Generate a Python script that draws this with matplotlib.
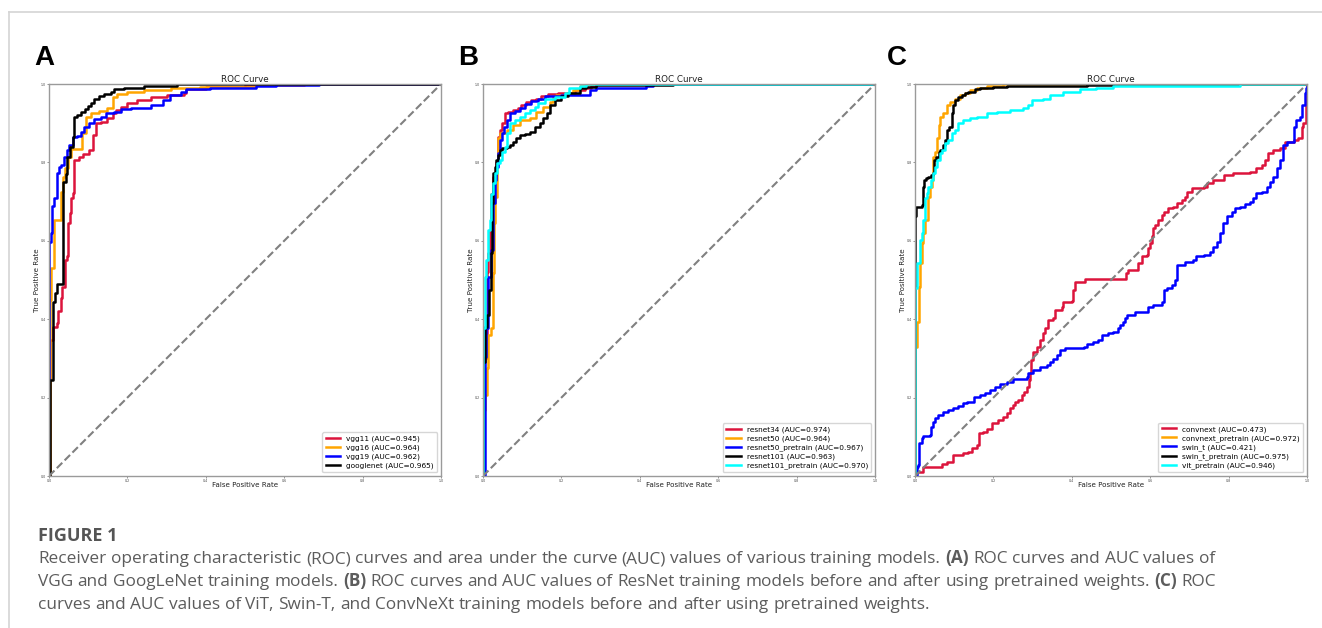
import matplotlib
matplotlib.use('Agg')
import matplotlib.pyplot as plt

W, H = 1322, 628

# ---------------- panel A: VGG / GoogLeNet ----------------
vgg11_fpr = [0, 0.002, 0.0105, 0.0196, 0.023, 0.03, 0.034, 0.04, 0.045, 0.048, 0.054, 0.057, 0.062, 0.065,
             0.077, 0.088, 0.102, 0.113, 0.119, 0.132, 0.149, 0.162, 0.17, 0.183, 0.2, 0.225, 0.259, 0.302,
             0.344, 0.35, 0.4, 0.5, 0.65, 1.0]
vgg11_tpr = [0, 0.347, 0.381, 0.391, 0.422, 0.453, 0.483, 0.551, 0.56, 0.645, 0.67, 0.708, 0.721, 0.806,
             0.815, 0.821, 0.832, 0.87, 0.9, 0.904, 0.912, 0.925, 0.934, 0.942, 0.951, 0.959, 0.968, 0.972,
             0.978, 0.986, 0.993, 0.997, 1.0, 1.0]

vgg16_fpr = [0, 0.0025, 0.006, 0.013, 0.031, 0.036, 0.04, 0.048, 0.055, 0.085, 0.094, 0.106, 0.128, 0.149,
             0.162, 0.174, 0.2, 0.242, 0.31, 0.384, 0.529, 0.65, 1.0]
vgg16_tpr = [0, 0.449, 0.53, 0.653, 0.725, 0.764, 0.785, 0.815, 0.833, 0.874, 0.917, 0.925, 0.932, 0.938,
             0.968, 0.974, 0.98, 0.985, 0.99, 0.993, 0.997, 1.0, 1.0]

vgg19_fpr = [0, 0, 0.004, 0.0085, 0.013, 0.0195, 0.0255, 0.0315, 0.038, 0.045, 0.051, 0.06, 0.072, 0.081,
             0.089, 0.102, 0.115, 0.132, 0.145, 0.166, 0.183, 0.208, 0.259, 0.291, 0.308, 0.338, 0.35, 0.41,
             0.529, 0.58, 0.69, 1.0]
vgg19_tpr = [0, 0.598, 0.62, 0.69, 0.708, 0.772, 0.787, 0.793, 0.815, 0.832, 0.844, 0.864, 0.867, 0.878,
             0.891, 0.9, 0.91, 0.917, 0.925, 0.929, 0.935, 0.94, 0.946, 0.959, 0.972, 0.98, 0.986, 0.991,
             0.995, 0.997, 1.0, 1.0]

googlenet_fpr = [0, 0.003, 0.009, 0.011, 0.015, 0.021, 0.036, 0.043, 0.047, 0.054, 0.06, 0.065, 0.072, 0.082,
                 0.091, 0.1, 0.108, 0.116, 0.128, 0.14, 0.157, 0.167, 0.191, 0.242, 0.327, 1.0]
googlenet_tpr = [0, 0.245, 0.29, 0.445, 0.466, 0.49, 0.75, 0.77, 0.815, 0.84, 0.866, 0.917, 0.92, 0.928,
                 0.935, 0.944, 0.952, 0.961, 0.969, 0.974, 0.98, 0.986, 0.991, 0.996, 1.0, 1.0]

# ---------------- panel B: ResNet ----------------
resnet34_fpr = [0, 0, 0.009, 0.013, 0.017, 0.021, 0.026, 0.034, 0.037, 0.043, 0.049, 0.055, 0.064, 0.077,
                0.089, 0.098, 0.11, 0.123, 0.136, 0.149, 0.166, 0.191, 0.234, 0.26, 0.276, 0.289, 1.0]
resnet34_tpr = [0, 0.30, 0.52, 0.568, 0.627, 0.72, 0.764, 0.80, 0.866, 0.883, 0.9, 0.925, 0.929, 0.934,
                0.94, 0.946, 0.955, 0.959, 0.963, 0.969, 0.974, 0.978, 0.985, 0.991, 0.995, 1.0, 1.0]

resnet50_fpr = [0, 0, 0.006, 0.011, 0.014, 0.021, 0.026, 0.028, 0.031, 0.035, 0.038, 0.043, 0.06, 0.077,
                0.094, 0.119, 0.136, 0.153, 0.17, 0.179, 0.187, 0.213, 0.23, 0.247, 0.264, 1.0]
resnet50_tpr = [0, 0.168, 0.207, 0.275, 0.36, 0.377, 0.517, 0.645, 0.713, 0.80, 0.861, 0.874, 0.883, 0.895,
                0.908, 0.912, 0.929, 0.942, 0.955, 0.966, 0.972, 0.976, 0.985, 0.995, 1.0, 1.0]

resnet50_pre_fpr = [0, 0.004, 0.0085, 0.0128, 0.021, 0.0255, 0.03, 0.034, 0.038, 0.0425, 0.048, 0.054, 0.06,
                    0.068, 0.081, 0.094, 0.106, 0.123, 0.14, 0.157, 0.2, 0.273, 0.289, 0.417, 0.434, 1.0]
resnet50_pre_tpr = [0, 0.304, 0.377, 0.508, 0.577, 0.696, 0.755, 0.789, 0.823, 0.857, 0.874, 0.891, 0.908,
                    0.925, 0.932, 0.94, 0.949, 0.957, 0.963, 0.969, 0.973, 0.985, 0.991, 0.995, 1.0, 1.0]

resnet101_fpr = [0, 0, 0.006, 0.011, 0.0153, 0.0196, 0.023, 0.0255, 0.03, 0.034, 0.038, 0.0425, 0.048, 0.06,
                 0.068, 0.077, 0.085, 0.094, 0.106, 0.119, 0.132, 0.145, 0.153, 0.162, 0.17, 0.183, 0.2,
                 0.217, 0.247, 0.264, 0.289, 0.485, 1.0]
resnet101_tpr = [0, 0.29, 0.381, 0.41, 0.474, 0.568, 0.696, 0.772, 0.789, 0.806, 0.819, 0.832, 0.836, 0.84,
                 0.844, 0.853, 0.861, 0.87, 0.872, 0.878, 0.891, 0.9, 0.912, 0.925, 0.946, 0.959, 0.969,
                 0.976, 0.989, 0.993, 0.997, 1.0, 1.0]

resnet101_pre_fpr = [0, 0, 0.004, 0.0085, 0.0128, 0.017, 0.021, 0.0255, 0.0315, 0.036, 0.0425, 0.048, 0.055,
                     0.062, 0.068, 0.081, 0.094, 0.106, 0.119, 0.132, 0.14, 0.157, 0.183, 0.208, 0.22, 0.247,
                     0.264, 1.0]
resnet101_pre_tpr = [0, 0.377, 0.508, 0.551, 0.627, 0.653, 0.72, 0.747, 0.772, 0.798, 0.806, 0.827, 0.84,
                     0.874, 0.9, 0.908, 0.917, 0.925, 0.934, 0.942, 0.951, 0.963, 0.967, 0.976, 0.989, 0.995,
                     1.0, 1.0]

# ---------------- panel C: ConvNeXt / Swin-T / ViT ----------------
convnext_fpr = [0, 0.0213, 0.068, 0.0808, 0.0978, 0.123, 0.136, 0.145, 0.157, 0.162, 0.174, 0.183, 0.196,
                0.213, 0.225, 0.234, 0.242, 0.251, 0.255, 0.264, 0.272, 0.278, 0.285, 0.291, 0.293, 0.295,
                0.302, 0.31, 0.319, 0.327, 0.332, 0.34, 0.353, 0.357, 0.374, 0.378, 0.4, 0.404, 0.408,
                0.434, 0.538, 0.544, 0.57, 0.578, 0.591, 0.595, 0.599, 0.604, 0.608, 0.612, 0.621, 0.629,
                0.634, 0.646, 0.659, 0.668, 0.68, 0.689, 0.693, 0.706, 0.736, 0.744, 0.761, 0.787, 0.812,
                0.854, 0.871, 0.884, 0.893, 0.901, 0.914, 0.931, 0.944, 0.966, 0.978, 0.986, 0.99, 0.997, 1.0]
convnext_tpr = [0.011, 0.0238, 0.03, 0.035, 0.054, 0.0578, 0.062, 0.0706, 0.079, 0.109, 0.113, 0.12, 0.134,
                0.143, 0.151, 0.16, 0.173, 0.181, 0.19, 0.194, 0.207, 0.215, 0.228, 0.245, 0.262, 0.296,
                0.317, 0.33, 0.347, 0.364, 0.377, 0.398, 0.402, 0.423, 0.432, 0.445, 0.447, 0.474, 0.496,
                0.503, 0.517, 0.526, 0.543, 0.56, 0.564, 0.581, 0.594, 0.611, 0.632, 0.64, 0.653, 0.666,
                0.674, 0.683, 0.687, 0.696, 0.704, 0.713, 0.725, 0.734, 0.738, 0.747, 0.755, 0.768, 0.772,
                0.776, 0.785, 0.793, 0.806, 0.823, 0.832, 0.836, 0.853, 0.857, 0.862, 0.891, 0.9, 0.97, 1.0]

convnext_pre_fpr = [0, 0, 0.004, 0.011, 0.0128, 0.017, 0.021, 0.0255, 0.034, 0.038, 0.0425, 0.047, 0.051,
                    0.057, 0.062, 0.065, 0.072, 0.081, 0.089, 0.102, 0.115, 0.128, 0.14, 0.157, 0.183, 0.225, 1.0]
convnext_pre_tpr = [0, 0.33, 0.394, 0.483, 0.543, 0.594, 0.619, 0.653, 0.713, 0.738, 0.755, 0.815, 0.827,
                    0.861, 0.895, 0.917, 0.925, 0.946, 0.955, 0.963, 0.972, 0.978, 0.985, 0.991, 0.995, 1.0, 1.0]

swin_t_fpr = [0, 0.0043, 0.0085, 0.011, 0.017, 0.0213, 0.038, 0.04, 0.045, 0.051, 0.0595, 0.072, 0.085, 0.098,
              0.11, 0.123, 0.132, 0.15, 0.166, 0.178, 0.191, 0.204, 0.217, 0.234, 0.251, 0.285, 0.289, 0.302,
              0.319, 0.336, 0.344, 0.353, 0.361, 0.37, 0.383, 0.43, 0.438, 0.455, 0.468, 0.476, 0.493, 0.506,
              0.519, 0.523, 0.531, 0.536, 0.54, 0.561, 0.595, 0.608, 0.629, 0.634, 0.642, 0.655, 0.663, 0.668,
              0.689, 0.71, 0.718, 0.736, 0.753, 0.761, 0.77, 0.778, 0.785, 0.795, 0.808, 0.816, 0.829, 0.842,
              0.854, 0.863, 0.871, 0.884, 0.897, 0.906, 0.914, 0.923, 0.931, 0.94, 0.948, 0.966, 0.968, 0.973,
              0.982, 0.986, 0.995, 0.997, 1.0]
swin_t_tpr = [0.0026, 0.0238, 0.0281, 0.0833, 0.096, 0.103, 0.105, 0.126, 0.139, 0.147, 0.156, 0.164, 0.168,
              0.174, 0.179, 0.185, 0.188, 0.202, 0.207, 0.213, 0.219, 0.228, 0.235, 0.241, 0.247, 0.252, 0.262,
              0.27, 0.277, 0.283, 0.292, 0.298, 0.309, 0.321, 0.326, 0.33, 0.338, 0.343, 0.347, 0.36, 0.364,
              0.368, 0.377, 0.385, 0.394, 0.402, 0.411, 0.419, 0.432, 0.436, 0.445, 0.474, 0.479, 0.487, 0.5,
              0.538, 0.547, 0.551, 0.56, 0.564, 0.572, 0.585, 0.598, 0.619, 0.645, 0.662, 0.674, 0.683, 0.687,
              0.694, 0.7, 0.708, 0.721, 0.725, 0.738, 0.751, 0.764, 0.785, 0.806, 0.844, 0.853, 0.857, 0.891,
              0.908, 0.917, 0.946, 0.976, 0.989, 1.0]

swin_t_pre_fpr = [0, 0, 0.0026, 0.017, 0.0196, 0.023, 0.028, 0.034, 0.04, 0.045, 0.048, 0.054, 0.06, 0.064,
                  0.071, 0.077, 0.081, 0.088, 0.094, 0.098, 0.102, 0.11, 0.119, 0.128, 0.136, 0.153, 0.166,
                  0.2, 0.234, 0.438, 0.506, 1.0]
swin_t_pre_tpr = [0, 0.662, 0.687, 0.691, 0.738, 0.755, 0.759, 0.764, 0.768, 0.772, 0.806, 0.815, 0.827,
                  0.832, 0.844, 0.857, 0.883, 0.891, 0.925, 0.946, 0.959, 0.967, 0.972, 0.976, 0.98, 0.986,
                  0.989, 0.993, 0.995, 0.998, 1.0, 1.0]

vit_pre_fpr = [0, 0, 0.006, 0.0128, 0.017, 0.021, 0.0255, 0.03, 0.034, 0.04, 0.045, 0.051, 0.055, 0.064, 0.068,
               0.077, 0.085, 0.094, 0.102, 0.11, 0.123, 0.14, 0.157, 0.183, 0.208, 0.242, 0.276, 0.289, 0.298,
               0.327, 0.344, 0.378, 0.421, 0.463, 0.506, 0.829, 1.0]
vit_pre_tpr = [0, 0.48, 0.543, 0.602, 0.619, 0.653, 0.708, 0.721, 0.738, 0.755, 0.772, 0.789, 0.806, 0.823,
               0.832, 0.849, 0.857, 0.874, 0.883, 0.9, 0.908, 0.912, 0.917, 0.925, 0.929, 0.934, 0.938, 0.946,
               0.959, 0.963, 0.972, 0.98, 0.986, 0.991, 0.995, 1.0, 1.0]

panel_a = [('vgg11', '0.945', 'crimson', vgg11_fpr, vgg11_tpr),
           ('vgg16', '0.964', 'orange', vgg16_fpr, vgg16_tpr),
           ('vgg19', '0.962', 'blue', vgg19_fpr, vgg19_tpr),
           ('googlenet', '0.965', 'black', googlenet_fpr, googlenet_tpr)]
panel_b = [('resnet34', '0.974', 'crimson', resnet34_fpr, resnet34_tpr),
           ('resnet50', '0.964', 'orange', resnet50_fpr, resnet50_tpr),
           ('resnet50_pretrain', '0.967', 'blue', resnet50_pre_fpr, resnet50_pre_tpr),
           ('resnet101', '0.963', 'black', resnet101_fpr, resnet101_tpr),
           ('resnet101_pretrain', '0.970', 'cyan', resnet101_pre_fpr, resnet101_pre_tpr)]
panel_c = [('convnext', '0.473', 'crimson', convnext_fpr, convnext_tpr),
           ('convnext_pretrain', '0.972', 'orange', convnext_pre_fpr, convnext_pre_tpr),
           ('swin_t', '0.421', 'blue', swin_t_fpr, swin_t_tpr),
           ('swin_t_pretrain', '0.975', 'black', swin_t_pre_fpr, swin_t_pre_tpr),
           ('vit_pretrain', '0.946', 'cyan', vit_pre_fpr, vit_pre_tpr)]

fig = plt.figure(figsize=(W / 100, H / 100), dpi=100)
fig.patch.set_facecolor('white')

# light frame around the figure block
fig.add_artist(plt.Line2D([9 / W, 1], [1 - 12 / H, 1 - 12 / H], color='#d4d4d4', lw=1.2))
fig.add_artist(plt.Line2D([9 / W, 9 / W], [0, 1 - 12 / H], color='#d4d4d4', lw=1.2))

lefts = [49, 483, 915]
letters = ['A', 'B', 'C']
letter_x = [34, 458, 887]
ticks = [0, 0.2, 0.4, 0.6, 0.8, 1.0]

for left, letter, lx, curves in zip(lefts, letters, letter_x, [panel_a, panel_b, panel_c]):
    ax = fig.add_axes([left / W, (H - 476) / H, 392 / W, 392 / H])
    for name, auc, color, fpr, tpr in curves:
        ax.plot(fpr, tpr, color=color, lw=1.8, drawstyle='steps-post', label=f'{name} (AUC={auc})')
    ax.plot([0, 1], [0, 1], color='gray', lw=1.5, linestyle='--')
    ax.set_xlim(0, 1)
    ax.set_ylim(0, 1)
    ax.set_xticks(ticks)
    ax.set_yticks(ticks)
    ax.set_xticklabels([f'{t:.1f}' for t in ticks])
    ax.set_yticklabels([f'{t:.1f}' for t in ticks])
    ax.tick_params(labelsize=2.3, length=1.5, width=0.4, pad=1, colors='#444444')
    for s in ax.spines.values():
        s.set_color('#9a9a9a')
        s.set_linewidth(1.0)
    ax.set_title('ROC Curve', fontsize=6.3, pad=1.5, color='#222222')
    ax.set_xlabel('False Positive Rate', fontsize=5.1, color='#222222')
    ax.set_ylabel('True Positive Rate', fontsize=5.1, color='#222222')
    ax.xaxis.set_label_coords(0.5, -0.016)
    ax.yaxis.set_label_coords(-0.024, 0.5)
    ax.legend(loc='lower right', fontsize=5.3, handlelength=2.0, labelspacing=0.3,
              borderpad=0.45, borderaxespad=0.5)
    fig.text(lx / W, 1 - 65 / H, letter, fontsize=20, fontweight='bold', family='Liberation Sans',
             va='baseline', ha='left', color='black')

# caption
renderer = fig.canvas.get_renderer()


def text_width(s, weight, size):
    t = fig.text(0, 0, s, fontsize=size, fontweight=weight, family='Open Sans')
    w = t.get_window_extent(renderer=renderer).width
    t.remove()
    return w


def draw_line(segments, x0, ybase, size, color):
    space = text_width('a a', 'normal', size) - text_width('aa', 'normal', size)
    x = x0
    for txt, bold in segments:
        words = txt.split(' ')
        for j, word in enumerate(words):
            if word:
                t = fig.text(x / W, 1 - ybase / H, word, fontsize=size, color=color,
                             fontweight='bold' if bold else 'normal', family='Open Sans',
                             va='baseline', ha='left')
                x += t.get_window_extent(renderer=renderer).width
            if j < len(words) - 1:
                x += space


cap_x = 38
fig.text(cap_x / W, 1 - 541 / H, 'FIGURE 1', fontsize=13, fontweight='bold', family='Open Sans',
         color='#555555', va='baseline', ha='left')
caption_lines = [
    [('Receiver operating characteristic (ROC) curves and area under the curve (AUC) values of various training models. ', False),
     ('(A)', True), (' ROC curves and AUC values of', False)],
    [('VGG and GoogLeNet training models. ', False), ('(B)', True),
     (' ROC curves and AUC values of ResNet training models before and after using pretrained weights. ', False),
     ('(C)', True), (' ROC', False)],
    [('curves and AUC values of ViT, Swin-T, and ConvNeXt training models before and after using pretrained weights.', False)],
]
for k, segs in enumerate(caption_lines):
    draw_line(segs, cap_x, 563 + 23 * k, 12.4, '#5c5c5c')

fig.savefig('out.png', dpi=100, facecolor='white')
